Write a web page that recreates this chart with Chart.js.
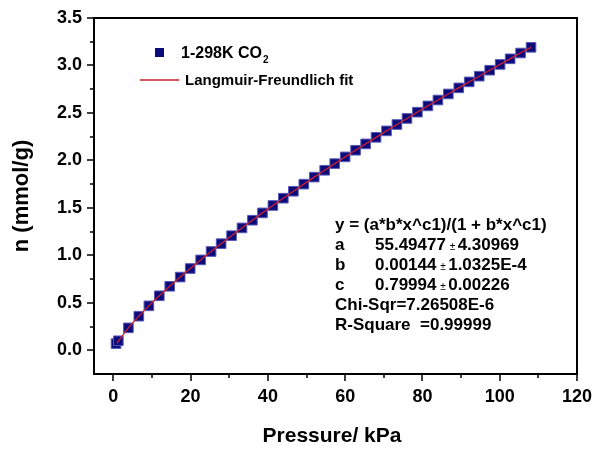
<!DOCTYPE html>
<html>
<head>
<meta charset="utf-8">
<script src="https://cdn.jsdelivr.net/npm/chart.js@4.4.1/dist/chart.umd.min.js"></script>
<style>
  html, body { margin: 0; padding: 0; background: #fff; }
  #wrap { width: 597px; height: 453px; }
</style>
</head>
<body>
<div id="wrap"><canvas id="isoChart" width="597" height="453"></canvas></div>
<script>
// measured isotherm, 298 K CO2
const pressure = [0.7, 1.3, 3.9, 6.6, 9.2, 11.9, 14.6, 17.3, 19.9, 22.6, 25.3, 27.9, 30.6, 33.3, 36.0, 38.6,
  41.3, 44.0, 46.6, 49.3, 52.0, 54.7, 57.3, 60.0, 62.7, 65.3, 68.0, 70.7, 73.4, 76.0, 78.7, 81.4,
  84.0, 86.7, 89.4, 92.1, 94.7, 97.4, 100.1, 102.7, 105.4, 108.1];
const uptake = [0.07, 0.10, 0.236, 0.359, 0.468, 0.574, 0.674, 0.771, 0.861, 0.952, 1.040, 1.123, 1.207, 1.289, 1.370, 1.447,
  1.525, 1.602, 1.675, 1.750, 1.824, 1.896, 1.966, 2.037, 2.107, 2.174, 2.243, 2.311, 2.378, 2.442, 2.508, 2.574,
  2.636, 2.700, 2.764, 2.827, 2.887, 2.950, 3.011, 3.070, 3.131, 3.191];

// Langmuir-Freundlich fit curve
const fitPressure = [0.9, 3.9, 6.6, 9.2, 11.9, 14.6, 17.3, 19.9, 22.6, 25.3, 27.9, 30.6, 33.3, 36.0, 38.6,
  41.3, 44.0, 46.6, 49.3, 52.0, 54.7, 57.3, 60.0, 62.7, 65.3, 68.0, 70.7, 73.4, 76.0, 78.7, 81.4,
  84.0, 86.7, 89.4, 92.1, 94.7, 97.4, 100.1, 102.7, 105.4, 108.1];
const fitUptake = [0.073, 0.236, 0.359, 0.468, 0.574, 0.674, 0.771, 0.861, 0.952, 1.040, 1.123, 1.207, 1.289, 1.370, 1.447,
  1.525, 1.602, 1.675, 1.750, 1.824, 1.896, 1.966, 2.037, 2.107, 2.174, 2.243, 2.311, 2.378, 2.442, 2.508, 2.574,
  2.636, 2.700, 2.764, 2.827, 2.887, 2.950, 3.011, 3.070, 3.131, 3.191];

const xTicks = [0, 20, 40, 60, 80, 100, 120];
const yTicks = [0.0, 0.5, 1.0, 1.5, 2.0, 2.5, 3.0, 3.5];

const fitLines = [
  ['y = (a*b*x^c1)/(1 + b*x^c1)'],
  ['a', '55.49477', '4.30969'],
  ['b', '0.00144', '1.0325E-4'],
  ['c', '0.79994', '0.00226'],
  ['Chi-Sqr=7.26508E-6'],
  ['R-Square  =0.99999']
];

const FONT = '"Liberation Sans", Arial, sans-serif';

const toPoints = (xs, ys) => xs.map((x, i) => ({x: x, y: ys[i]}));

// frame, outward ticks, axis titles, legend, fit report
const decor = {
  id: 'decor',
  afterDraw(c) {
    const ctx = c.ctx;
    const a = c.chartArea;
    const xs = c.scales.x, ys = c.scales.y;
    ctx.save();
    ctx.strokeStyle = '#000';
    ctx.lineWidth = 2;
    ctx.strokeRect(a.left, a.top, a.right - a.left, a.bottom - a.top);

    ctx.lineWidth = 1.5;
    ctx.beginPath();
    for (let v = 0; v <= 120; v += 10) {
      const px = Math.round(xs.getPixelForValue(v));
      const len = v % 20 === 0 ? 7 : 4;
      ctx.moveTo(px, a.bottom);
      ctx.lineTo(px, a.bottom + len);
    }
    for (let v = 0; v <= 3.5001; v += 0.25) {
      const py = Math.round(ys.getPixelForValue(v));
      const len = Math.round(v * 4) % 2 === 0 ? 7 : 4;
      ctx.moveTo(a.left, py);
      ctx.lineTo(a.left - len, py);
    }
    ctx.stroke();

    // axis titles
    ctx.fillStyle = '#000';
    ctx.font = 'bold 21px ' + FONT;
    ctx.textAlign = 'center';
    ctx.textBaseline = 'middle';
    ctx.fillText('Pressure/ kPa', 332, 436);
    ctx.save();
    ctx.translate(22, 196);
    ctx.rotate(-Math.PI / 2);
    ctx.font = 'bold 22px ' + FONT;
    ctx.fillText('n (mmol/g)', 0, 0);
    ctx.restore();

    // legend
    ctx.textAlign = 'left';
    ctx.textBaseline = 'alphabetic';
    ctx.fillStyle = '#0b0b7a';
    ctx.fillRect(155, 48, 9, 9);
    ctx.fillStyle = '#000';
    ctx.font = 'bold 16px ' + FONT;
    ctx.fillText('1-298K CO', 181, 58);
    const w = ctx.measureText('1-298K CO').width;
    ctx.font = 'bold 10px ' + FONT;
    ctx.fillText('2', 181 + w + 1, 63);
    ctx.strokeStyle = '#cc1f2f';
    ctx.lineWidth = 1.3;
    ctx.beginPath();
    ctx.moveTo(140, 80);
    ctx.lineTo(179, 80);
    ctx.stroke();
    ctx.font = 'bold 15px ' + FONT;
    ctx.fillText('Langmuir-Freundlich fit', 185, 85);

    // fit report
    let y = 230;
    fitLines.forEach(line => {
      ctx.font = 'bold 17px ' + FONT;
      ctx.fillText(line[0], 335, y);
      if (line.length > 1) {
        ctx.fillText(line[1], 375, y);
        const vw = ctx.measureText(line[1] + ' ').width;
        ctx.font = '10px ' + FONT;
        ctx.fillText('\u00b1', 375 + vw - 1, y);
        ctx.font = 'bold 17px ' + FONT;
        ctx.fillText(line[2], 375 + vw + 7, y);
      }
      y += 20;
    });
    ctx.restore();
  }
};

new Chart(document.getElementById('isoChart'), {
  type: 'scatter',
  data: {
    datasets: [
      {
        label: 'Langmuir-Freundlich fit',
        data: toPoints(fitPressure, fitUptake),
        showLine: true,
        borderColor: '#cc1f2f',
        borderWidth: 1.3,
        pointRadius: 0,
        tension: 0.3
      },
      {
        label: '1-298K CO2',
        data: toPoints(pressure, uptake),
        pointStyle: 'rect',
        pointRadius: 6.8,
        backgroundColor: '#0b0b7a',
        borderColor: '#5858b8',
        borderWidth: 1
      }
    ]
  },
  options: {
    responsive: false,
    animation: false,
    layout: { padding: { left: 0, right: 20, top: 18, bottom: 0 } },
    plugins: { legend: { display: false }, tooltip: { enabled: false } },
    scales: {
      x: {
        type: 'linear',
        min: -5,
        max: 120,
        afterFit: s => { s.height = 79; s.paddingLeft = 0; s.paddingRight = 0; },
        afterBuildTicks: s => { s.ticks = xTicks.map(v => ({value: v})); },
        grid: { display: false, drawTicks: false },
        border: { display: false },
        ticks: { padding: 12, color: '#000', font: { family: FONT, size: 18, weight: 'bold' } }
      },
      y: {
        type: 'linear',
        min: -0.25,
        max: 3.5,
        afterFit: s => { s.width = 94; s.paddingTop = 0; s.paddingBottom = 0; },
        afterBuildTicks: s => { s.ticks = yTicks.map(v => ({value: v})); },
        grid: { display: false, drawTicks: false },
        border: { display: false },
        ticks: {
          padding: 12,
          color: '#000',
          font: { family: FONT, size: 18, weight: 'bold' },
          callback: v => v.toFixed(1)
        }
      }
    }
  },
  plugins: [decor]
});
</script>
</body>
</html>
